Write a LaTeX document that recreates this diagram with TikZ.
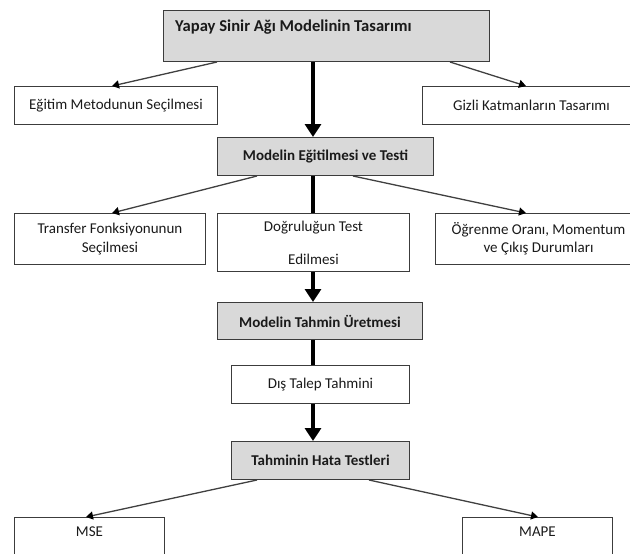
\documentclass[tikz,border=0pt]{standalone}
\usepackage{fontspec}
\setmainfont{Carlito}
\usetikzlibrary{arrows.meta}
\definecolor{boxgray}{HTML}{D9D9D9}
\definecolor{edgecol}{HTML}{3C3C3C}
\definecolor{thinline}{HTML}{404040}
\definecolor{txt}{HTML}{1A1A1A}
\begin{document}
\begin{tikzpicture}[x=1pt,y=-1pt,
  font=\fontsize{15pt}{18.3pt}\selectfont,
  box/.style={draw=edgecol, line width=1pt, rectangle, anchor=north west, inner sep=0pt, align=center, text=txt},
  gbox/.style={box, fill=boxgray, font=\fontsize{15pt}{18.3pt}\selectfont\bfseries},
  thinarr/.style={draw=thinline, line width=1.3pt, -{Triangle[length=7pt,width=8pt,color=black]}},
  thickarr/.style={line width=4.5pt, -{Triangle[length=13pt,width=16pt]}},
  thickline/.style={line width=4.5pt}]
\useasboundingbox (0,0) rectangle (630,554);
\clip (0,0) rectangle (630,554);
% boxes
\node[gbox, minimum width=326pt, minimum height=51pt] (top) at (163,10) {};
\node[anchor=west, inner sep=0pt, font=\fontsize{16.6pt}{20pt}\selectfont\bfseries, text=txt] (toplabel) at (175,27) {Yapay Sinir Ağı Modelinin Tasarımı};
\node[box, minimum width=203pt, minimum height=38pt] (egitim) at (14,86) {Eğitim Metodunun Seçilmesi};
\node[box, minimum width=218pt, minimum height=38pt] (gizli) at (422,86) {Gizli Katmanların Tasarımı};
\node[gbox, minimum width=216pt, minimum height=38pt] (egt) at (217,137) {Modelin Eğitilmesi ve Testi};
\node[box, minimum width=191pt, minimum height=51pt] (transfer) at (14,213) {Transfer Fonksiyonunun\\Seçilmesi};
\node[box, minimum width=192pt, minimum height=58pt] (dogru) at (217,213) {Doğruluğun Test\\[15pt]Edilmesi};
\node[box, minimum width=206pt, minimum height=51pt] (ogrenme) at (435,213) {Öğrenme Oranı, Momentum\\ve Çıkış Durumları};
\node[gbox, minimum width=205pt, minimum height=37pt] (tahmin) at (217,302) {Modelin Tahmin Üretmesi};
\node[box, minimum width=178pt, minimum height=38pt] (dis) at (231,365) {Dış Talep Tahmini};
\node[gbox, minimum width=178pt, minimum height=38pt] (hata) at (231,441) {Tahminin Hata Testleri};
\node[box, minimum width=150pt, minimum height=50pt, text depth=22pt] (mse) at (14,517) {MSE};
\node[box, minimum width=150pt, minimum height=50pt, text depth=22pt] (mape) at (462,517) {MAPE};
% connectors
\draw[thinarr] ([xshift=54pt]top.south west) -- ([xshift=98pt]egitim.north west);
\draw[thinarr] ([xshift=287pt]top.south west) -- ([xshift=104pt]gizli.north west);
\draw[thickarr] ([xshift=150pt]top.south west) -- ([xshift=96pt]egt.north west);
\draw[thinarr] ([xshift=40pt]egt.south west) -- ([xshift=98pt]transfer.north west);
\draw[thinarr] ([xshift=136pt]egt.south west) -- ([xshift=91pt]ogrenme.north west);
\draw[thickline] ([xshift=96pt]egt.south west) -- ([xshift=96pt]dogru.north west);
\draw[thickarr] ([xshift=96pt]dogru.south west) -- ([xshift=96pt]tahmin.north west);
\draw[thickline] ([xshift=96pt]tahmin.south west) -- ([xshift=82pt]dis.north west);
\draw[thickarr] ([xshift=82pt]dis.south west) -- ([xshift=82pt]hata.north west);
\draw[thinarr] ([xshift=26pt]hata.south west) -- ([xshift=72pt]mse.north west);
\draw[thinarr] ([xshift=138pt]hata.south west) -- ([xshift=76pt]mape.north west);
\end{tikzpicture}
\end{document}
